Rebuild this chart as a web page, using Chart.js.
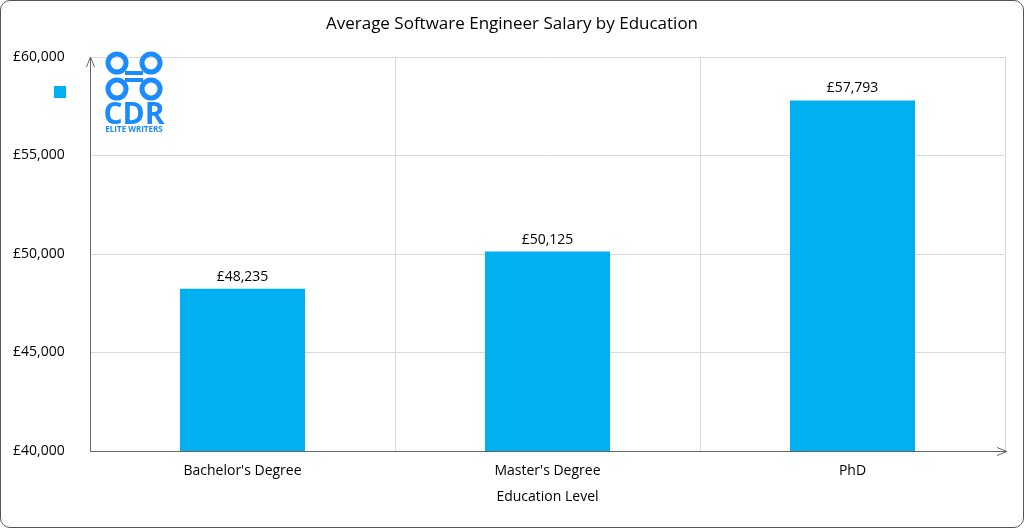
<!DOCTYPE html>
<html><head><meta charset="utf-8">
<script src="https://cdn.jsdelivr.net/npm/chart.js"></script>
<style>
html,body{margin:0;padding:0;background:#fff;}
#wrap{position:absolute;left:0;top:0;width:1022px;height:526px;border:1px solid #555;border-radius:10px;overflow:hidden;background:#fff}
canvas{display:block}
</style></head><body>
<div id="wrap"><canvas id="c" width="1022" height="526"></canvas></div>
<script>
const categories=["Bachelor's Degree","Master's Degree","PhD"];
const salaries=[48235,50125,57793];
const yTicks=[40000,45000,50000,55000,60000];
const fmt=v=>'£'+v.toLocaleString('en-GB');
const FONT='"Open Sans", "Liberation Sans", Arial, sans-serif';
const deco={id:'deco',afterDraw(ch){
  const c=ch.ctx,a=ch.chartArea;
  c.save();
  c.fillStyle='#000';c.font='17px '+FONT;c.textAlign='center';c.textBaseline='middle';
  c.fillText('Average Software Engineer Salary by Education',511,23);
  c.font='14px '+FONT;c.textBaseline='bottom';
  ch.getDatasetMeta(0).data.forEach((b,i)=>c.fillText(fmt(salaries[i]),b.x,b.y-5));
  c.strokeStyle='#666';c.lineWidth=1;c.beginPath();
  c.moveTo(a.left+0.5,a.bottom);c.lineTo(a.left+0.5,a.top);
  c.moveTo(a.left,a.bottom+0.5);c.lineTo(a.right+2,a.bottom+0.5);
  c.moveTo(a.left-3.5,a.top+10);c.lineTo(a.left+0.5,a.top);c.lineTo(a.left+4.5,a.top+10);
  c.moveTo(a.right-8,a.bottom-3.5);c.lineTo(a.right+2,a.bottom+0.5);c.lineTo(a.right-8,a.bottom+4.5);
  c.stroke();
  c.fillStyle='#00b0f0';c.fillRect(53,85,12,12);
  c.strokeStyle='#1a8cff';c.lineWidth=5;
  [[116,62],[150,62],[116,88],[150,88]].forEach(p=>{c.beginPath();c.arc(p[0],p[1],9,0,Math.PI*2);c.stroke();});
  c.fillStyle='#1a8cff';c.fillRect(124,70,18,4);c.fillRect(124,77,18,4);
  c.font='bold 30px '+FONT;c.textAlign='center';c.textBaseline='alphabetic';
  c.fillText('CDR',133,123);
  c.font='bold 8px '+FONT;c.fillText('ELITE WRITERS',133,131);
  c.restore();
}};
new Chart(document.getElementById('c'),{type:'bar',
 data:{labels:categories,datasets:[{data:salaries,backgroundColor:'#00b0f0',categoryPercentage:1,barPercentage:0.41}]},
 options:{responsive:false,animation:false,
  layout:{padding:{top:56,right:18,left:12,bottom:18}},
  plugins:{legend:{display:false},title:{display:false},tooltip:{enabled:false}},
  scales:{
   x:{grid:{offset:true,color:'#d9d9d9',drawTicks:false},border:{display:false},
      ticks:{color:'#000',font:{size:14,family:FONT},padding:12},
      title:{display:true,text:'Education Level',color:'#000',font:{size:14,family:FONT},padding:{top:4}},
      afterFit(s){s.height=58;}},
   y:{min:40000,max:60000,grid:{color:'#d9d9d9',drawTicks:false},border:{display:false},
      afterBuildTicks(s){s.ticks=yTicks.map(v=>({value:v}));},
      ticks:{color:'#000',font:{size:14,family:FONT},crossAlign:'far',callback:v=>fmt(v)},
      afterFit(s){s.width=77;}}
  }},
 plugins:[deco]});
</script></body></html>
